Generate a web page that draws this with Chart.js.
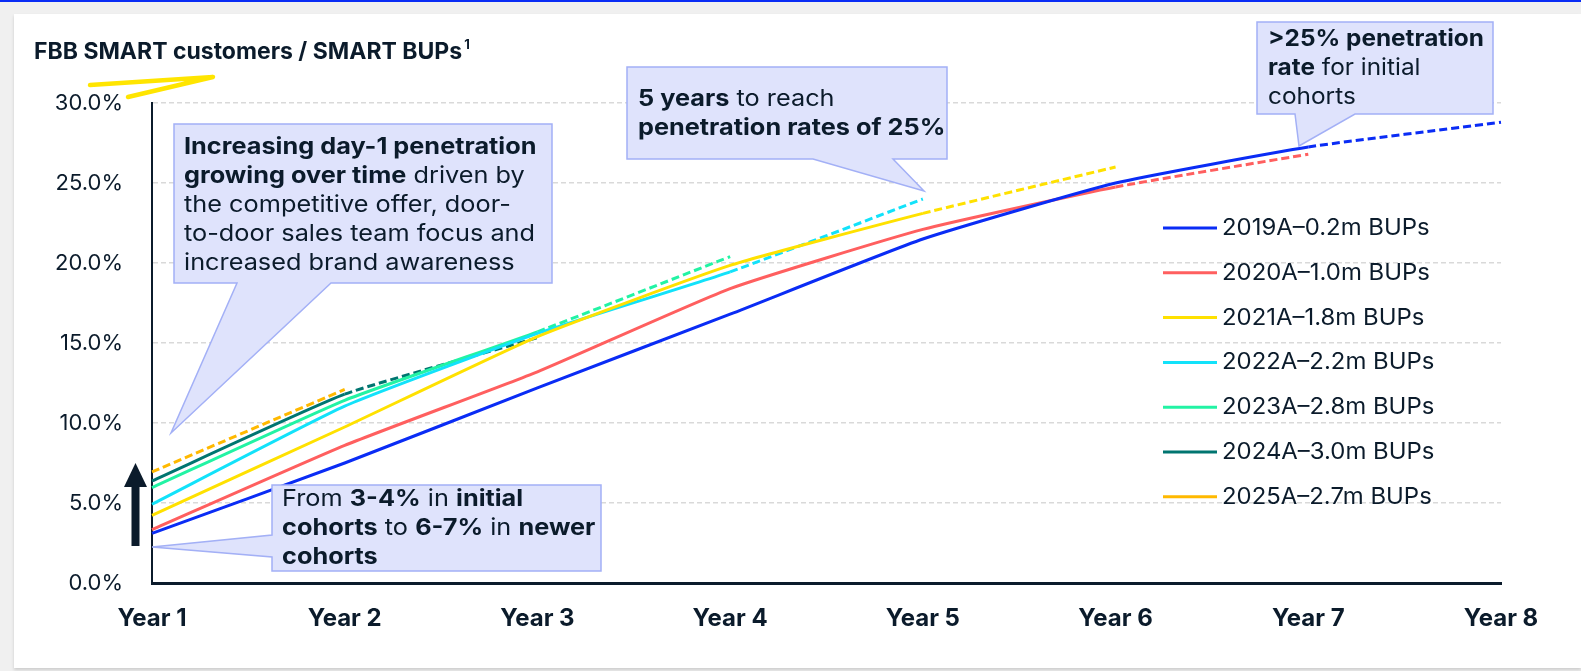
<!DOCTYPE html>
<html>
<head>
<meta charset="utf-8">
<script src="https://cdn.jsdelivr.net/npm/chart.js@4.4.1/dist/chart.umd.min.js"></script>
<style>
    html, body { margin: 0; padding: 0; }
    body { width: 1581px; height: 671px; background: #f0f0f0; position: relative; overflow: hidden; }
    #topbar { position: absolute; left: 0; top: 0; width: 1581px; height: 2px; background: #0a2cf5; }
    #card { position: absolute; left: 14px; top: 14px; width: 1567px; height: 654px; background: #fff; box-shadow: 0 2px 3px rgba(0,0,0,0.15); }
    #chart { position: absolute; left: 0; top: 0; }
</style>
</head>
<body>
<div id="topbar"></div>
<div id="card"></div>
<canvas id="chart" width="1581" height="671"></canvas>
<script>
// x categories
const years = ['Year 1', 'Year 2', 'Year 3', 'Year 4', 'Year 5', 'Year 6', 'Year 7', 'Year 8'];

// cohort labels
const cohorts = [
    '2019A–0.2m BUPs',
    '2020A–1.0m BUPs',
    '2021A–1.8m BUPs',
    '2022A–2.2m BUPs',
    '2023A–2.8m BUPs',
    '2024A–3.0m BUPs',
    '2025A–2.7m BUPs'
];

// penetration (%); last point of each line is a projection
const c2019 = [3.1, 7.5, 12.2, 16.8, 21.5, 25.0, 27.25, 28.8];
const c2020 = [3.33, 8.6, 13.2, 18.4, 22.1, 24.75, 26.8];
const c2021 = [4.23, 9.75, 15.4, 19.85, 23.1, 26.0];
const c2022 = [4.92, 11.05, 15.6, 19.45, 24.0];
const c2023 = [5.96, 11.42, 15.7, 20.4];
const c2024 = [6.38, 11.8, 15.33];
const c2025 = [6.94, 12.1];

// index of the last actual (non projected) value per cohort
const lastActual = [6, 5, 4, 3, 2, 1, 0];

const colors = ['#0a2cf5', '#ff5f5f', '#ffe100', '#12e2fa', '#22f3a4', '#007570', '#ffb900'];

const yTicks = { min: 0, max: 30, step: 5 };

const navy = '#0b1b2b';
const FONT = 'Inter, "Open Sans", sans-serif';

// text drawn a bit wider, the original font is a wide geometric one
function wideText(ctx, txt, x, y, sx) {
    ctx.save();
    ctx.translate(x, y);
    ctx.scale(sx, 1);
    ctx.fillText(txt, 0, 0);
    ctx.restore();
    return ctx.measureText(txt).width * sx;
}

// draws one line of mixed bold / regular text
function richLine(ctx, runs, x, y, size, sx) {
    let cx = x;
    runs.forEach(([txt, bold]) => {
        ctx.font = (bold ? 'bold ' : '') + size + 'px ' + FONT;
        cx += wideText(ctx, txt, cx, y, sx);
    });
}

// callout boxes (pixel layout)
const callouts = [
    {
        box: [174, 124, 378, 159], side: 'bottom', base: [237, 331], tip: [171, 433],
        lines: [
            [['Increasing day-1 penetration', true]],
            [['growing over time', true], [' driven by', false]],
            [['the competitive offer, door-', false]],
            [['to-door sales team focus and', false]],
            [['increased brand awareness', false]]
        ],
        tx: 184, ty: 147, sx: 1.1
    },
    {
        box: [627, 67, 320, 92], side: 'bottom', base: [813, 893], tip: [924, 191],
        lines: [
            [['5 years', true], [' to reach', false]],
            [['penetration rates of 25%', true]]
        ],
        tx: 638, ty: 99, sx: 1.1
    },
    {
        box: [1257, 22, 236, 92], side: 'bottom', base: [1295, 1355], tip: [1299, 146],
        lines: [
            [['>25% penetration', true]],
            [['rate', true], [' for initial', false]],
            [['cohorts', false]]
        ],
        tx: 1268, ty: 39, sx: 1.06
    },
    {
        box: [272, 485, 329, 86], side: 'left', base: [535, 557], tip: [152, 547],
        lines: [
            [['From ', false], ['3-4%', true], [' in ', false], ['initial', true]],
            [['cohorts', true], [' to ', false], ['6-7%', true], [' in ', false], ['newer', true]],
            [['cohorts', true]]
        ],
        tx: 282, ty: 499, sx: 1.1
    }
];

const decorPlugin = {
    id: 'decor',
    afterDraw(chart) {
        const ctx = chart.ctx;
        ctx.save();

        // title + highlighter stroke
        ctx.fillStyle = navy;
        ctx.textBaseline = 'middle';
        ctx.font = 'bold 23px ' + FONT;
        const tw = wideText(ctx, 'FBB SMART customers / SMART BUPs', 34, 52, 1.0);
        ctx.font = 'bold 13px ' + FONT;
        ctx.fillText('1', 34 + tw + 2, 45);

        ctx.strokeStyle = '#ffe500';
        ctx.lineCap = 'round';
        ctx.lineJoin = 'round';
        ctx.lineWidth = 4.5;
        ctx.beginPath();
        ctx.moveTo(90, 85);
        ctx.lineTo(213, 77);
        ctx.lineTo(128, 97);
        ctx.stroke();

        // legend
        chart.data.datasets.forEach((ds, i) => {
            const y = 228 + i * 44.8;
            ctx.strokeStyle = ds.borderColor;
            ctx.lineWidth = 3;
            ctx.lineCap = 'butt';
            ctx.beginPath();
            ctx.moveTo(1163, y);
            ctx.lineTo(1217, y);
            ctx.stroke();
            ctx.fillStyle = navy;
            ctx.font = '23px ' + FONT;
            ctx.textBaseline = 'middle';
            wideText(ctx, ds.label, 1222, y, 1.04);
        });

        // callouts
        callouts.forEach(c => {
            const [x, y, w, h] = c.box;
            ctx.beginPath();
            if (c.side === 'bottom') {
                ctx.moveTo(x, y);
                ctx.lineTo(x + w, y);
                ctx.lineTo(x + w, y + h);
                ctx.lineTo(c.base[1], y + h);
                ctx.lineTo(c.tip[0], c.tip[1]);
                ctx.lineTo(c.base[0], y + h);
                ctx.lineTo(x, y + h);
            } else {
                ctx.moveTo(x, y);
                ctx.lineTo(x + w, y);
                ctx.lineTo(x + w, y + h);
                ctx.lineTo(x, y + h);
                ctx.lineTo(x, c.base[1]);
                ctx.lineTo(c.tip[0], c.tip[1]);
                ctx.lineTo(x, c.base[0]);
            }
            ctx.closePath();
            ctx.fillStyle = '#dfe3fc';
            ctx.fill();
            ctx.strokeStyle = '#a3b0f6';
            ctx.lineWidth = 1.5;
            ctx.lineJoin = 'miter';
            ctx.stroke();

            ctx.fillStyle = navy;
            ctx.textBaseline = 'middle';
            c.lines.forEach((runs, k) => richLine(ctx, runs, c.tx, c.ty + k * 29, 23, c.sx));
        });

        // up arrow
        ctx.fillStyle = navy;
        ctx.fillRect(131.5, 485, 8, 61);
        ctx.beginPath();
        ctx.moveTo(124, 487);
        ctx.lineTo(147, 487);
        ctx.lineTo(135.5, 463);
        ctx.closePath();
        ctx.fill();

        ctx.restore();
    }
};

const allSeries = [c2019, c2020, c2021, c2022, c2023, c2024, c2025];

const datasets = allSeries.map((vals, i) => ({
    label: cohorts[i],
    data: vals,
    borderColor: colors[i],
    backgroundColor: colors[i],
    borderWidth: 3,
    pointRadius: 0,
    tension: 0.15,
    fill: false,
    segment: {
        borderDash: ctx => ctx.p0DataIndex >= lastActual[i] ? [8, 4] : undefined
    }
}));

new Chart(document.getElementById('chart'), {
    type: 'line',
    data: { labels: years, datasets: datasets },
    options: {
        responsive: false,
        animation: false,
        layout: { padding: { left: 0, right: 80, top: 103, bottom: 0 } },
        plugins: {
            legend: { display: false },
            title: { display: false },
            tooltip: { enabled: false }
        },
        scales: {
            x: {
                offset: false,
                grid: { display: false, drawTicks: false },
                border: { display: true, color: navy, width: 3 },
                ticks: {
                    color: navy,
                    padding: 21,
                    font: { family: FONT, size: 24, weight: 'bold' }
                },
                afterFit: s => { s.height = 88; }
            },
            y: {
                min: yTicks.min,
                max: yTicks.max,
                grid: { color: '#d9d9d9', lineWidth: 1.5, drawTicks: false },
                border: { display: true, color: navy, width: 2, dash: [5, 3] },
                ticks: {
                    stepSize: yTicks.step,
                    color: navy,
                    padding: 29,
                    font: { family: FONT, size: 22 },
                    callback: v => v.toFixed(1) + '%'
                },
                afterFit: s => { s.width = 152; }
            }
        }
    },
    plugins: [decorPlugin]
});
</script>
</body>
</html>
